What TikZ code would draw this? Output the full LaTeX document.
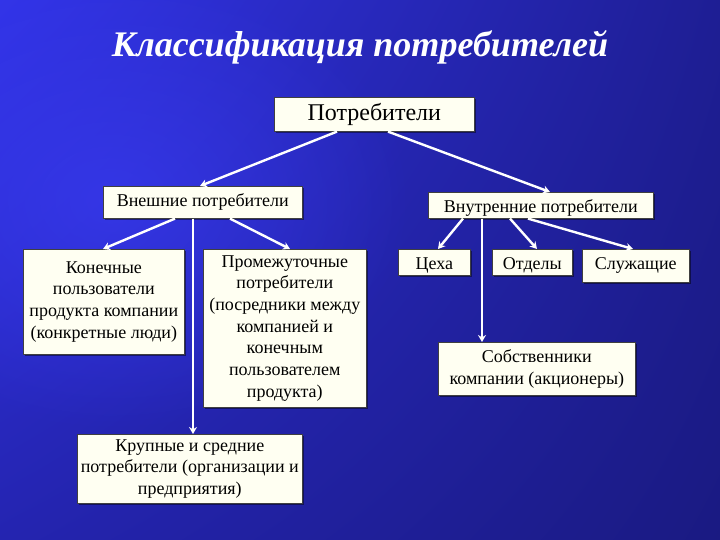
\documentclass[tikz,border=0pt]{standalone}
\usepackage{fontspec}
\setmainfont{Liberation Serif}
\usetikzlibrary{arrows.meta,shadows,fadings,shadings}
\definecolor{bgUL}{RGB}{50,52,232}
\definecolor{bgUR}{RGB}{30,30,148}
\definecolor{bgLL}{RGB}{36,36,176}
\definecolor{bgLR}{RGB}{26,26,130}
\definecolor{glow}{RGB}{58,60,245}
\definecolor{boxfill}{RGB}{255,255,242}
\tikzfading[name=glowfade, inner color=transparent!0, outer color=transparent!100]
\begin{document}
\begin{tikzpicture}[x=1pt,y=-1pt,
  box/.style={draw=black!75, line width=0.6pt, fill=boxfill,
    drop shadow={shadow xshift=2pt, shadow yshift=-2pt, opacity=0.45, fill=black},
    font=\fontsize{18}{21.7}\selectfont, align=center, inner sep=0pt,
    anchor=north west, text=black},
  lowtext/.style={text height=15pt, text depth=1pt},
  conn/.style={draw=white, line width=2.4pt, -{Stealth[length=7pt,width=8pt]}}]
\useasboundingbox (0,0) rectangle (720,540);
\shade[shading=bilinear interpolation, upper left=bgUL, upper right=bgUR, lower left=bgLL, lower right=bgLR] (0,0) rectangle (720,540);
\fill[glow, path fading=glowfade, opacity=0.65] (110,200) ellipse (300 and 230);

% title
\node[text=white, font=\fontsize{36}{40}\selectfont\bfseries\itshape] (title) at (360,47) {Классификация потребителей};

% boxes
\node[box, minimum width=200, minimum height=34, font=\fontsize{24}{28}\selectfont] (root) at (274,97) {Потребители};
\node[box, minimum width=199, minimum height=32] (ext) at (103,186) {Внешние потребители};
\node[box, lowtext, minimum width=225, minimum height=26] (int) at (428,192) {Внутренние потребители};
\node[box, minimum width=161, minimum height=105] (kon) at (23,249) {Конечные\\пользователи\\продукта компании\\(конкретные люди)};
\node[box, minimum width=163, minimum height=158] (prom) at (203,249) {Промежуточные\\потребители\\(посредники между\\компанией и\\конечным\\пользователем\\продукта)};
\node[box, minimum width=225, minimum height=69] (big) at (77,434) {Крупные и средние\\потребители (организации и\\предприятия)};
\node[box, lowtext, minimum width=72, minimum height=26] (tseh) at (398,249) {Цеха};
\node[box, lowtext, minimum width=80, minimum height=26] (otd) at (492,249) {Отделы};
\node[box, minimum width=107, minimum height=33] (slu) at (582,249) {Служащие};
\node[box, minimum width=197, minimum height=53] (sob) at (438,342) {Собственники\\компании (акционеры)};

% connectors
\draw[conn] ([xshift=63]root.south west) -- ([xshift=97]ext.north west);
\draw[conn] ([xshift=114]root.south west) -- ([xshift=122]int.north west);
\draw[conn] ([xshift=72]ext.south west) -- ([xshift=80]kon.north west);
\draw[conn] ([xshift=90]ext.south west) -- ([xshift=116]big.north west);
\draw[conn] ([xshift=127]ext.south west) -- ([xshift=87]prom.north west);
\draw[conn] ([xshift=35]int.south west) -- ([xshift=40]tseh.north west);
\draw[conn] ([xshift=54]int.south west) -- ([xshift=44]sob.north west);
\draw[conn] ([xshift=82]int.south west) -- ([xshift=45]otd.north west);
\draw[conn] ([xshift=100]int.south west) -- ([xshift=51]slu.north west);
\end{tikzpicture}
\end{document}
